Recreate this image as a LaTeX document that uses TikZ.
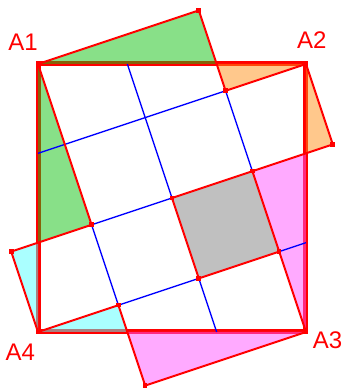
\documentclass[tikz,border=0pt]{standalone}
\usepackage{fontspec}
\setmainfont{Liberation Sans}
\usepackage{tikz}
\usetikzlibrary{calc}
\definecolor{sqred}{HTML}{FF0000}
\definecolor{gridblue}{HTML}{0000FF}
\definecolor{leaf}{RGB}{17,193,17}
\definecolor{peach}{RGB}{255,145,25}
\definecolor{pink}{RGB}{255,85,255}
\definecolor{aqua}{RGB}{85,255,255}
\definecolor{slate}{RGB}{129,129,129}

\begin{document}
\begin{tikzpicture}[
  x=26.8pt,y=-26.8pt,
  bigsq/.style={draw=sqred,line width=5pt,line join=miter},
  redline/.style={draw=sqred,line width=2pt,line join=round},
  blueline/.style={draw=gridblue,line width=1.4pt},
  piece/.style={fill opacity=0.5},
  lab/.style={text=sqred,font=\fontsize{24}{24}\selectfont,inner sep=0pt},
  dot/.style={fill=sqred}
]
\useasboundingbox (-1.418,-2.388) rectangle (11.381,12.09);
% big square
\coordinate (a1) at (0,0);
\coordinate (a2) at (10,0);
\coordinate (a3) at (10,10);
\coordinate (a4) at (0,10);
% tilted lattice points
\coordinate (u2) at (6,-2);
\coordinate (u2v1) at (7,1);
\coordinate (u3v2) at (11,3);
\coordinate (u2v2) at (8,4);
\coordinate (u2v3) at (9,7);
\coordinate (u1v2) at (5,5);
\coordinate (u1v3) at (6,8);
\coordinate (v2) at (2,6);
\coordinate (v3) at (3,9);
\coordinate (v4) at (4,12);
\coordinate (um1v2) at (-1,7);
% where the lattice meets the square
\coordinate (top1) at (20/3,0);
\coordinate (top2) at (10/3,0);
\coordinate (right1) at (10,10/3);
\coordinate (right2) at (10,20/3);
\coordinate (bot1) at (10/3,10);
\coordinate (bot2) at (20/3,10);
\coordinate (left1) at (0,20/3);
\coordinate (left2) at (0,10/3);

\draw[bigsq] (a1)--(a2)--(a3)--(a4)--cycle;

\fill[piece,leaf] (a1)--(u2)--(top1)--cycle;
\fill[piece,leaf] (a1)--(v2)--(left1)--cycle;
\fill[piece,peach] (top1)--(a2)--(u2v1)--cycle;
\fill[piece,peach] (a2)--(u3v2)--(right1)--cycle;
\fill[piece,pink] (right1)--(u2v2)--(u2v3)--(a3)--cycle;
\fill[piece,pink] (bot1)--(v4)--(a3)--cycle;
\fill[piece,aqua] (a4)--(um1v2)--(left1)--cycle;
\fill[piece,aqua] (a4)--(v3)--(bot1)--cycle;
\fill[piece,slate] (u1v2)--(u2v2)--(u2v3)--(u1v3)--cycle;

\draw[blueline] (left2)--(u2v1);
\draw[blueline] (v2)--(u1v2);
\draw[blueline] (v3)--(u1v3);
\draw[blueline] (u2v3)--(right2);
\draw[blueline] (top2)--(u1v2);
\draw[blueline] (u1v3)--(bot2);
\draw[blueline] (v2)--(v3);
\draw[blueline] (u2v1)--(u2v2);

\draw[redline] (a1)--(u2)--(u2v1)--(a2)--(u3v2)--(u2v2);
\draw[redline] (u1v2)--(u2v2)--(u2v3)--(u1v3)--cycle;
\draw[redline] (u2v3)--(a3)--(v4)--(v3)--(a4)--(um1v2)--(v2)--(a1);

\foreach \p in {a1,a2,a3,a4,u2,u2v1,u3v2,u2v2,u2v3,u1v2,u1v3,v2,v3,v4,um1v2}
  \fill[dot] (\p) +(-2.3pt,-2.3pt) rectangle +(2.3pt,2.3pt);

\node[lab] (n1) at (-0.56,-0.80) {A1};
\node[lab] (n2) at (10.22,-0.90) {A2};
\node[lab] (n3) at (10.80,10.32) {A3};
\node[lab] (n4) at (-0.66,10.75) {A4};
\end{tikzpicture}
\end{document}
